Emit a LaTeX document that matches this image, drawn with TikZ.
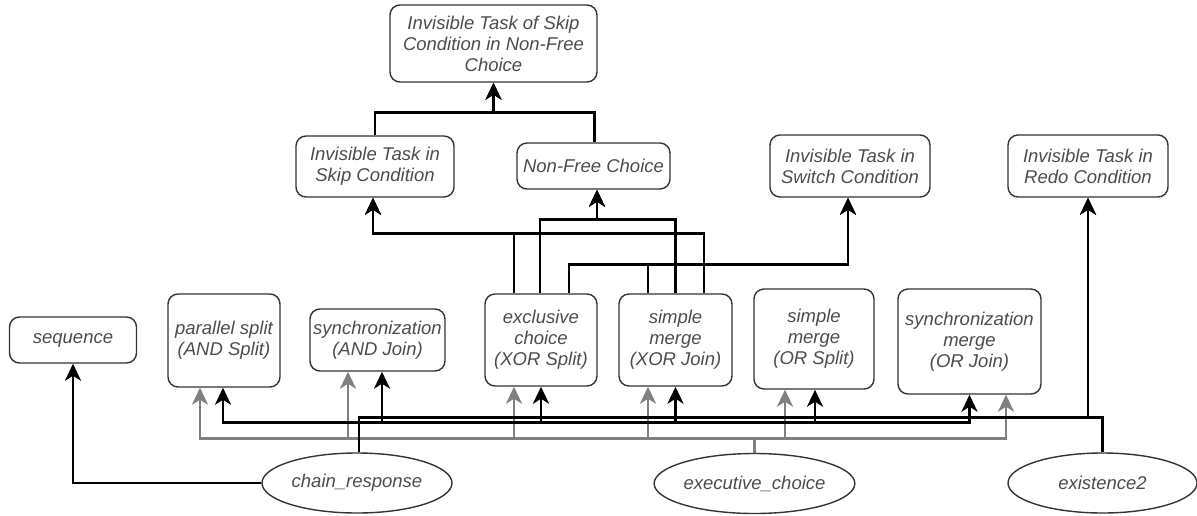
\documentclass[tikz,border=0pt]{standalone}
\usepackage{fontspec}
\setmainfont{Liberation Sans}
\usetikzlibrary{arrows.meta,shapes.geometric}

\begin{document}
\begin{tikzpicture}[x=1pt,y=-1pt,
    pattern/.style={draw=black!80, line width=1.4pt, rounded corners=10pt, align=center, inner sep=0pt, text=black!70, font=\fontsize{18.5}{21}\selectfont\itshape},
    constraint/.style={ellipse, draw=black!80, line width=1.4pt, inner sep=0pt, minimum width=190pt, minimum height=60pt, text=black!70, font=\fontsize{18.5}{21}\selectfont\itshape},
    blk/.style={draw=black, line width=2.8pt, -{Stealth[length=17pt,width=16pt,inset=5pt]}},
    gry/.style={draw=black!50, line width=2.6pt, -{Stealth[length=17pt,width=16pt,inset=5pt]}}]
    \useasboundingbox (0,0) rectangle (1197,515);
    % pattern boxes
    \node[pattern, minimum width=127pt, minimum height=46pt] (seq) at (73,340) {sequence};
    \node[pattern, minimum width=112pt, minimum height=93pt] (andsplit) at (224,340.5) {parallel split\\(AND Split)};
    \node[pattern, minimum width=135pt, minimum height=62pt] (andjoin) at (377.5,340) {synchronization\\(AND Join)};
    \node[pattern, minimum width=112pt, minimum height=92pt] (xorsplit) at (541,340) {exclusive\\choice\\(XOR Split)};
    \node[pattern, minimum width=113pt, minimum height=92pt] (xorjoin) at (675.5,340) {simple\\merge\\(XOR Join)};
    \node[pattern, minimum width=120pt, minimum height=100pt] (orsplit) at (814,339) {simple\\merge\\(OR Split)};
    \node[pattern, minimum width=143pt, minimum height=105pt] (orjoin) at (969.5,341.5) {synchronization\\merge\\(OR Join)};
    \node[pattern, minimum width=207pt, minimum height=77pt] (itskipnfc) at (493.5,43.5) {Invisible Task of Skip\\Condition in Non-Free\\Choice};
    \node[pattern, minimum width=158pt, minimum height=61pt] (itskip) at (375,166.5) {Invisible Task in\\Skip Condition};
    \node[pattern, minimum width=153pt, minimum height=46pt] (nfchoice) at (593.5,166) {Non-Free Choice};
    \node[pattern, minimum width=160pt, minimum height=62pt] (itswitch) at (850,166) {Invisible Task in\\Switch Condition};
    \node[pattern, minimum width=160pt, minimum height=62pt] (itredo) at (1088,166) {Invisible Task in\\Redo Condition};
    % constraints
    \node[constraint] (chainresp) at (357,483) {chain\_response};
    \node[constraint, minimum width=191pt] (execchoice) at (754.5,483.5) {executive\_choice};
    \node[constraint, minimum width=189pt] (exist2) at (1102.5,483) {existence2};
    % upper level
    \draw[blk] (itskip.north) -- ++(0,-23) -| (itskipnfc.south);
    \draw[blk] ([xshift=1pt]nfchoice.north) -- ++(0,-30) -| (itskipnfc.south);
    \draw[blk] ([xshift=-27pt]xorsplit.north) -- ++(0,-60) -| ([xshift=-2pt]itskip.south);
    \draw[blk] ([xshift=28.5pt]xorjoin.north) -- ++(0,-60) -| ([xshift=-2pt]itskip.south);
    \draw[blk] ([xshift=-1pt]xorsplit.north) -- ++(0,-74) -| ([xshift=3.5pt]nfchoice.south);
    \draw[blk] (xorjoin.north) -- ++(0,-74) -| ([xshift=3.5pt]nfchoice.south);
    \draw[blk] ([xshift=28pt]xorsplit.north) -- ++(0,-29) -| ([xshift=-2pt]itswitch.south);
    \draw[blk] ([xshift=-27.5pt]xorjoin.north) -- ++(0,-29) -| ([xshift=-2pt]itswitch.south);
    % executive_choice
    \draw[gry] (execchoice.north) -- ++(0,-14.5) -| ([xshift=-24pt]andsplit.south);
    \draw[gry] (execchoice.north) -- ++(0,-14.5) -| ([xshift=-29.5pt]andjoin.south);
    \draw[gry] (execchoice.north) -- ++(0,-14.5) -| ([xshift=-27pt]xorsplit.south);
    \draw[gry] (execchoice.north) -- ++(0,-14.5) -| ([xshift=-27.5pt]xorjoin.south);
    \draw[gry] (execchoice.north) -- ++(0,-14.5) -| ([xshift=-29pt]orsplit.south);
    \draw[gry] (execchoice.north) -- ++(0,-14.5) -| ([xshift=36.5pt]orjoin.south);
    % chain_response
    \draw[blk] (chainresp.west) -| (seq.south);
    \draw[blk] ([xshift=2pt]chainresp.north) -- ++(0,-30) -| ([xshift=-1pt]andsplit.south);
    \draw[blk] ([xshift=2pt]chainresp.north) -- ++(0,-30) -| ([xshift=4.5pt]andjoin.south);
    \draw[blk] ([xshift=2pt]chainresp.north) -- ++(0,-30) -| (xorsplit.south);
    \draw[blk] ([xshift=2pt]chainresp.north) -- ++(0,-30) -| (xorjoin.south);
    \draw[blk] ([xshift=2pt]chainresp.north) -- ++(0,-30) -| ([xshift=1pt]orsplit.south);
    \draw[blk] ([xshift=2pt]chainresp.north) -- ++(0,-30) -| (orjoin.south);
    \draw[blk] ([xshift=2pt]chainresp.north) -- ++(0,-35) -| (itredo.south);
    % existence2
    \draw[blk] (exist2.north) -- ++(0,-35) -| (itredo.south);
  \end{tikzpicture}
\end{document}
